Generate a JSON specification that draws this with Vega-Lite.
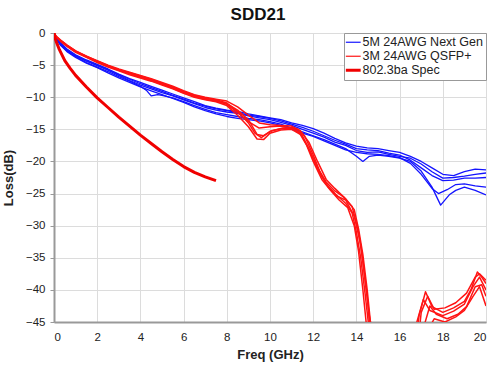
{
  "$schema": "https://vega.github.io/schema/vega-lite/v6.json",
  "autosize": {"type": "none"},
  "width": 432,
  "height": 289,
  "padding": {"left": 54, "top": 33, "right": 14, "bottom": 45},
  "background": "white",
  "config": {
    "font": "Liberation Sans",
    "view": {"stroke": "#999999", "strokeWidth": 1},
    "axis": {"gridColor": "#dcdcdc", "domainColor": "#999999", "domainWidth": 2, "labelFontSize": 11.5, "labelColor": "#222222", "titleFontSize": 13, "titleFontWeight": "bold", "titleColor": "#222222"},
    "axisX": {"ticks": false, "labelPadding": 9},
    "axisY": {"ticks": true, "tickSize": 4, "tickColor": "#999999", "labelPadding": 5}
  },
  "title": {"text": "SDD21", "fontSize": 17, "fontWeight": "bold", "color": "#111111", "anchor": "middle", "dx": -12, "offset": 3},
  "data": {"values": [
    {"c":"b1","g":"5M 24AWG Next Gen","f":0,"l":0},{"c":"b1","g":"5M 24AWG Next Gen","f":0.1,"l":-0.9},{"c":"b1","g":"5M 24AWG Next Gen","f":0.3,"l":-1.7},{"c":"b1","g":"5M 24AWG Next Gen","f":0.6,"l":-2.7},{"c":"b1","g":"5M 24AWG Next Gen","f":1,"l":-3.6},{"c":"b1","g":"5M 24AWG Next Gen","f":1.5,"l":-4.4},{"c":"b1","g":"5M 24AWG Next Gen","f":2,"l":-5.1},{"c":"b1","g":"5M 24AWG Next Gen","f":2.5,"l":-5.8},{"c":"b1","g":"5M 24AWG Next Gen","f":3,"l":-6.6},{"c":"b1","g":"5M 24AWG Next Gen","f":3.5,"l":-7.4},{"c":"b1","g":"5M 24AWG Next Gen","f":4,"l":-8.1},{"c":"b1","g":"5M 24AWG Next Gen","f":4.5,"l":-8.7},{"c":"b1","g":"5M 24AWG Next Gen","f":5,"l":-9.3},{"c":"b1","g":"5M 24AWG Next Gen","f":5.5,"l":-9.8},{"c":"b1","g":"5M 24AWG Next Gen","f":6,"l":-10.4},{"c":"b1","g":"5M 24AWG Next Gen","f":6.5,"l":-11.0},{"c":"b1","g":"5M 24AWG Next Gen","f":7,"l":-11.6},{"c":"b1","g":"5M 24AWG Next Gen","f":7.5,"l":-12.0},{"c":"b1","g":"5M 24AWG Next Gen","f":8,"l":-12.3},{"c":"b1","g":"5M 24AWG Next Gen","f":8.5,"l":-12.5},{"c":"b1","g":"5M 24AWG Next Gen","f":9,"l":-12.9},{"c":"b1","g":"5M 24AWG Next Gen","f":9.5,"l":-13.2},{"c":"b1","g":"5M 24AWG Next Gen","f":10,"l":-13.5},{"c":"b1","g":"5M 24AWG Next Gen","f":10.5,"l":-13.9},{"c":"b1","g":"5M 24AWG Next Gen","f":11,"l":-14.4},{"c":"b1","g":"5M 24AWG Next Gen","f":11.5,"l":-15.0},{"c":"b1","g":"5M 24AWG Next Gen","f":12,"l":-15.6},{"c":"b1","g":"5M 24AWG Next Gen","f":12.5,"l":-16.2},{"c":"b1","g":"5M 24AWG Next Gen","f":13,"l":-17.0},{"c":"b1","g":"5M 24AWG Next Gen","f":13.5,"l":-17.5},{"c":"b1","g":"5M 24AWG Next Gen","f":14,"l":-18.3},{"c":"b1","g":"5M 24AWG Next Gen","f":14.5,"l":-18.6},{"c":"b1","g":"5M 24AWG Next Gen","f":15,"l":-18.5},{"c":"b1","g":"5M 24AWG Next Gen","f":15.5,"l":-18.9},{"c":"b1","g":"5M 24AWG Next Gen","f":16,"l":-19.2},{"c":"b1","g":"5M 24AWG Next Gen","f":16.5,"l":-19.5},{"c":"b1","g":"5M 24AWG Next Gen","f":17,"l":-20.4},{"c":"b1","g":"5M 24AWG Next Gen","f":17.5,"l":-21.6},{"c":"b1","g":"5M 24AWG Next Gen","f":18,"l":-22.6},{"c":"b1","g":"5M 24AWG Next Gen","f":18.5,"l":-22.5},{"c":"b1","g":"5M 24AWG Next Gen","f":19,"l":-22.3},{"c":"b1","g":"5M 24AWG Next Gen","f":19.5,"l":-22.0},{"c":"b1","g":"5M 24AWG Next Gen","f":20,"l":-21.8},
    {"c":"b2","g":"5M 24AWG Next Gen","f":0,"l":0},{"c":"b2","g":"5M 24AWG Next Gen","f":0.1,"l":-0.8},{"c":"b2","g":"5M 24AWG Next Gen","f":0.3,"l":-1.5},{"c":"b2","g":"5M 24AWG Next Gen","f":0.6,"l":-2.5},{"c":"b2","g":"5M 24AWG Next Gen","f":1,"l":-3.4},{"c":"b2","g":"5M 24AWG Next Gen","f":1.5,"l":-4.2},{"c":"b2","g":"5M 24AWG Next Gen","f":2,"l":-4.9},{"c":"b2","g":"5M 24AWG Next Gen","f":2.5,"l":-5.6},{"c":"b2","g":"5M 24AWG Next Gen","f":3,"l":-6.4},{"c":"b2","g":"5M 24AWG Next Gen","f":3.5,"l":-7.1},{"c":"b2","g":"5M 24AWG Next Gen","f":4,"l":-7.7},{"c":"b2","g":"5M 24AWG Next Gen","f":4.5,"l":-8.3},{"c":"b2","g":"5M 24AWG Next Gen","f":5,"l":-8.9},{"c":"b2","g":"5M 24AWG Next Gen","f":5.5,"l":-9.5},{"c":"b2","g":"5M 24AWG Next Gen","f":6,"l":-10.1},{"c":"b2","g":"5M 24AWG Next Gen","f":6.5,"l":-10.7},{"c":"b2","g":"5M 24AWG Next Gen","f":7,"l":-11.3},{"c":"b2","g":"5M 24AWG Next Gen","f":7.5,"l":-11.7},{"c":"b2","g":"5M 24AWG Next Gen","f":8,"l":-12.0},{"c":"b2","g":"5M 24AWG Next Gen","f":8.5,"l":-12.2},{"c":"b2","g":"5M 24AWG Next Gen","f":9,"l":-12.6},{"c":"b2","g":"5M 24AWG Next Gen","f":9.5,"l":-12.9},{"c":"b2","g":"5M 24AWG Next Gen","f":10,"l":-13.2},{"c":"b2","g":"5M 24AWG Next Gen","f":10.5,"l":-13.5},{"c":"b2","g":"5M 24AWG Next Gen","f":11,"l":-14.0},{"c":"b2","g":"5M 24AWG Next Gen","f":11.5,"l":-14.4},{"c":"b2","g":"5M 24AWG Next Gen","f":12,"l":-14.9},{"c":"b2","g":"5M 24AWG Next Gen","f":12.5,"l":-15.6},{"c":"b2","g":"5M 24AWG Next Gen","f":13,"l":-16.4},{"c":"b2","g":"5M 24AWG Next Gen","f":13.5,"l":-17.1},{"c":"b2","g":"5M 24AWG Next Gen","f":14,"l":-17.6},{"c":"b2","g":"5M 24AWG Next Gen","f":14.5,"l":-17.9},{"c":"b2","g":"5M 24AWG Next Gen","f":15,"l":-18.0},{"c":"b2","g":"5M 24AWG Next Gen","f":15.5,"l":-18.3},{"c":"b2","g":"5M 24AWG Next Gen","f":16,"l":-18.6},{"c":"b2","g":"5M 24AWG Next Gen","f":16.5,"l":-19.2},{"c":"b2","g":"5M 24AWG Next Gen","f":17,"l":-20.0},{"c":"b2","g":"5M 24AWG Next Gen","f":17.5,"l":-21.0},{"c":"b2","g":"5M 24AWG Next Gen","f":18,"l":-22.0},{"c":"b2","g":"5M 24AWG Next Gen","f":18.5,"l":-22.2},{"c":"b2","g":"5M 24AWG Next Gen","f":19,"l":-21.6},{"c":"b2","g":"5M 24AWG Next Gen","f":19.5,"l":-21.2},{"c":"b2","g":"5M 24AWG Next Gen","f":20,"l":-21.3},
    {"c":"b3","g":"5M 24AWG Next Gen","f":0,"l":0},{"c":"b3","g":"5M 24AWG Next Gen","f":0.1,"l":-0.9},{"c":"b3","g":"5M 24AWG Next Gen","f":0.3,"l":-1.8},{"c":"b3","g":"5M 24AWG Next Gen","f":0.6,"l":-2.8},{"c":"b3","g":"5M 24AWG Next Gen","f":1,"l":-3.7},{"c":"b3","g":"5M 24AWG Next Gen","f":1.5,"l":-4.6},{"c":"b3","g":"5M 24AWG Next Gen","f":2,"l":-5.3},{"c":"b3","g":"5M 24AWG Next Gen","f":2.5,"l":-6.0},{"c":"b3","g":"5M 24AWG Next Gen","f":3,"l":-6.8},{"c":"b3","g":"5M 24AWG Next Gen","f":3.5,"l":-7.5},{"c":"b3","g":"5M 24AWG Next Gen","f":4,"l":-8.3},{"c":"b3","g":"5M 24AWG Next Gen","f":4.3,"l":-9.0},{"c":"b3","g":"5M 24AWG Next Gen","f":4.5,"l":-9.8},{"c":"b3","g":"5M 24AWG Next Gen","f":4.8,"l":-9.6},{"c":"b3","g":"5M 24AWG Next Gen","f":5,"l":-9.7},{"c":"b3","g":"5M 24AWG Next Gen","f":5.5,"l":-10.1},{"c":"b3","g":"5M 24AWG Next Gen","f":6,"l":-10.7},{"c":"b3","g":"5M 24AWG Next Gen","f":6.5,"l":-11.3},{"c":"b3","g":"5M 24AWG Next Gen","f":7,"l":-11.9},{"c":"b3","g":"5M 24AWG Next Gen","f":7.5,"l":-12.4},{"c":"b3","g":"5M 24AWG Next Gen","f":8,"l":-12.7},{"c":"b3","g":"5M 24AWG Next Gen","f":8.5,"l":-13.0},{"c":"b3","g":"5M 24AWG Next Gen","f":9,"l":-13.3},{"c":"b3","g":"5M 24AWG Next Gen","f":9.5,"l":-13.5},{"c":"b3","g":"5M 24AWG Next Gen","f":10,"l":-13.8},{"c":"b3","g":"5M 24AWG Next Gen","f":10.5,"l":-14.2},{"c":"b3","g":"5M 24AWG Next Gen","f":11,"l":-14.8},{"c":"b3","g":"5M 24AWG Next Gen","f":11.5,"l":-15.4},{"c":"b3","g":"5M 24AWG Next Gen","f":12,"l":-16.0},{"c":"b3","g":"5M 24AWG Next Gen","f":12.5,"l":-16.6},{"c":"b3","g":"5M 24AWG Next Gen","f":13,"l":-17.3},{"c":"b3","g":"5M 24AWG Next Gen","f":13.5,"l":-18.0},{"c":"b3","g":"5M 24AWG Next Gen","f":14,"l":-19.2},{"c":"b3","g":"5M 24AWG Next Gen","f":14.3,"l":-20.0},{"c":"b3","g":"5M 24AWG Next Gen","f":14.6,"l":-19.2},{"c":"b3","g":"5M 24AWG Next Gen","f":15,"l":-19.0},{"c":"b3","g":"5M 24AWG Next Gen","f":15.5,"l":-19.2},{"c":"b3","g":"5M 24AWG Next Gen","f":16,"l":-19.5},{"c":"b3","g":"5M 24AWG Next Gen","f":16.5,"l":-20.0},{"c":"b3","g":"5M 24AWG Next Gen","f":17,"l":-21.5},{"c":"b3","g":"5M 24AWG Next Gen","f":17.5,"l":-24.0},{"c":"b3","g":"5M 24AWG Next Gen","f":17.9,"l":-26.8},{"c":"b3","g":"5M 24AWG Next Gen","f":18.3,"l":-25.2},{"c":"b3","g":"5M 24AWG Next Gen","f":18.6,"l":-24.5},{"c":"b3","g":"5M 24AWG Next Gen","f":19,"l":-24.0},{"c":"b3","g":"5M 24AWG Next Gen","f":19.5,"l":-24.5},{"c":"b3","g":"5M 24AWG Next Gen","f":20,"l":-25.2},
    {"c":"b4","g":"5M 24AWG Next Gen","f":0,"l":0},{"c":"b4","g":"5M 24AWG Next Gen","f":0.1,"l":-1.0},{"c":"b4","g":"5M 24AWG Next Gen","f":0.3,"l":-1.9},{"c":"b4","g":"5M 24AWG Next Gen","f":0.6,"l":-2.9},{"c":"b4","g":"5M 24AWG Next Gen","f":1,"l":-3.8},{"c":"b4","g":"5M 24AWG Next Gen","f":1.5,"l":-4.7},{"c":"b4","g":"5M 24AWG Next Gen","f":2,"l":-5.4},{"c":"b4","g":"5M 24AWG Next Gen","f":2.5,"l":-6.2},{"c":"b4","g":"5M 24AWG Next Gen","f":3,"l":-7.0},{"c":"b4","g":"5M 24AWG Next Gen","f":3.5,"l":-7.7},{"c":"b4","g":"5M 24AWG Next Gen","f":4,"l":-8.4},{"c":"b4","g":"5M 24AWG Next Gen","f":4.5,"l":-9.0},{"c":"b4","g":"5M 24AWG Next Gen","f":5,"l":-9.6},{"c":"b4","g":"5M 24AWG Next Gen","f":5.5,"l":-10.2},{"c":"b4","g":"5M 24AWG Next Gen","f":6,"l":-10.8},{"c":"b4","g":"5M 24AWG Next Gen","f":6.5,"l":-11.5},{"c":"b4","g":"5M 24AWG Next Gen","f":7,"l":-12.1},{"c":"b4","g":"5M 24AWG Next Gen","f":7.5,"l":-12.6},{"c":"b4","g":"5M 24AWG Next Gen","f":8,"l":-13.0},{"c":"b4","g":"5M 24AWG Next Gen","f":8.5,"l":-13.3},{"c":"b4","g":"5M 24AWG Next Gen","f":9,"l":-13.5},{"c":"b4","g":"5M 24AWG Next Gen","f":9.5,"l":-13.7},{"c":"b4","g":"5M 24AWG Next Gen","f":10,"l":-14.0},{"c":"b4","g":"5M 24AWG Next Gen","f":10.5,"l":-14.4},{"c":"b4","g":"5M 24AWG Next Gen","f":11,"l":-15.0},{"c":"b4","g":"5M 24AWG Next Gen","f":11.5,"l":-15.6},{"c":"b4","g":"5M 24AWG Next Gen","f":12,"l":-16.1},{"c":"b4","g":"5M 24AWG Next Gen","f":12.5,"l":-16.8},{"c":"b4","g":"5M 24AWG Next Gen","f":13,"l":-17.5},{"c":"b4","g":"5M 24AWG Next Gen","f":13.5,"l":-18.2},{"c":"b4","g":"5M 24AWG Next Gen","f":14,"l":-18.6},{"c":"b4","g":"5M 24AWG Next Gen","f":14.5,"l":-18.8},{"c":"b4","g":"5M 24AWG Next Gen","f":15,"l":-18.9},{"c":"b4","g":"5M 24AWG Next Gen","f":15.5,"l":-19.1},{"c":"b4","g":"5M 24AWG Next Gen","f":16,"l":-19.4},{"c":"b4","g":"5M 24AWG Next Gen","f":16.5,"l":-20.3},{"c":"b4","g":"5M 24AWG Next Gen","f":17,"l":-22.0},{"c":"b4","g":"5M 24AWG Next Gen","f":17.5,"l":-24.2},{"c":"b4","g":"5M 24AWG Next Gen","f":17.8,"l":-25.0},{"c":"b4","g":"5M 24AWG Next Gen","f":18.2,"l":-24.4},{"c":"b4","g":"5M 24AWG Next Gen","f":18.6,"l":-23.6},{"c":"b4","g":"5M 24AWG Next Gen","f":19,"l":-23.5},{"c":"b4","g":"5M 24AWG Next Gen","f":19.5,"l":-23.8},{"c":"b4","g":"5M 24AWG Next Gen","f":20,"l":-24.0},
    {"c":"b5","g":"5M 24AWG Next Gen","f":0,"l":0},{"c":"b5","g":"5M 24AWG Next Gen","f":0.1,"l":-0.9},{"c":"b5","g":"5M 24AWG Next Gen","f":0.3,"l":-1.6},{"c":"b5","g":"5M 24AWG Next Gen","f":0.6,"l":-2.6},{"c":"b5","g":"5M 24AWG Next Gen","f":1,"l":-3.5},{"c":"b5","g":"5M 24AWG Next Gen","f":1.5,"l":-4.3},{"c":"b5","g":"5M 24AWG Next Gen","f":2,"l":-5.0},{"c":"b5","g":"5M 24AWG Next Gen","f":2.5,"l":-5.7},{"c":"b5","g":"5M 24AWG Next Gen","f":3,"l":-6.5},{"c":"b5","g":"5M 24AWG Next Gen","f":3.5,"l":-7.2},{"c":"b5","g":"5M 24AWG Next Gen","f":4,"l":-7.9},{"c":"b5","g":"5M 24AWG Next Gen","f":4.5,"l":-8.5},{"c":"b5","g":"5M 24AWG Next Gen","f":5,"l":-9.1},{"c":"b5","g":"5M 24AWG Next Gen","f":5.5,"l":-9.7},{"c":"b5","g":"5M 24AWG Next Gen","f":6,"l":-10.3},{"c":"b5","g":"5M 24AWG Next Gen","f":6.5,"l":-10.9},{"c":"b5","g":"5M 24AWG Next Gen","f":7,"l":-11.4},{"c":"b5","g":"5M 24AWG Next Gen","f":7.5,"l":-11.8},{"c":"b5","g":"5M 24AWG Next Gen","f":8,"l":-12.1},{"c":"b5","g":"5M 24AWG Next Gen","f":8.5,"l":-12.4},{"c":"b5","g":"5M 24AWG Next Gen","f":9,"l":-12.8},{"c":"b5","g":"5M 24AWG Next Gen","f":9.5,"l":-13.0},{"c":"b5","g":"5M 24AWG Next Gen","f":10,"l":-13.3},{"c":"b5","g":"5M 24AWG Next Gen","f":10.5,"l":-13.7},{"c":"b5","g":"5M 24AWG Next Gen","f":11,"l":-14.2},{"c":"b5","g":"5M 24AWG Next Gen","f":11.5,"l":-14.7},{"c":"b5","g":"5M 24AWG Next Gen","f":12,"l":-15.3},{"c":"b5","g":"5M 24AWG Next Gen","f":12.5,"l":-16.0},{"c":"b5","g":"5M 24AWG Next Gen","f":13,"l":-16.7},{"c":"b5","g":"5M 24AWG Next Gen","f":13.5,"l":-17.3},{"c":"b5","g":"5M 24AWG Next Gen","f":14,"l":-18.0},{"c":"b5","g":"5M 24AWG Next Gen","f":14.5,"l":-18.2},{"c":"b5","g":"5M 24AWG Next Gen","f":15,"l":-18.3},{"c":"b5","g":"5M 24AWG Next Gen","f":15.5,"l":-18.7},{"c":"b5","g":"5M 24AWG Next Gen","f":16,"l":-19.0},{"c":"b5","g":"5M 24AWG Next Gen","f":16.5,"l":-19.8},{"c":"b5","g":"5M 24AWG Next Gen","f":17,"l":-21.0},{"c":"b5","g":"5M 24AWG Next Gen","f":17.5,"l":-22.2},{"c":"b5","g":"5M 24AWG Next Gen","f":18,"l":-23.0},{"c":"b5","g":"5M 24AWG Next Gen","f":18.5,"l":-22.9},{"c":"b5","g":"5M 24AWG Next Gen","f":19,"l":-22.6},{"c":"b5","g":"5M 24AWG Next Gen","f":19.5,"l":-22.6},{"c":"b5","g":"5M 24AWG Next Gen","f":20,"l":-22.5},
    {"c":"r1","g":"3M 24AWG QSFP+","f":0,"l":0},{"c":"r1","g":"3M 24AWG QSFP+","f":0.1,"l":-0.6},{"c":"r1","g":"3M 24AWG QSFP+","f":0.3,"l":-1.2},{"c":"r1","g":"3M 24AWG QSFP+","f":0.6,"l":-2.0},{"c":"r1","g":"3M 24AWG QSFP+","f":1,"l":-2.9},{"c":"r1","g":"3M 24AWG QSFP+","f":1.5,"l":-3.7},{"c":"r1","g":"3M 24AWG QSFP+","f":2,"l":-4.5},{"c":"r1","g":"3M 24AWG QSFP+","f":2.5,"l":-5.2},{"c":"r1","g":"3M 24AWG QSFP+","f":3,"l":-5.8},{"c":"r1","g":"3M 24AWG QSFP+","f":3.5,"l":-6.3},{"c":"r1","g":"3M 24AWG QSFP+","f":4,"l":-6.8},{"c":"r1","g":"3M 24AWG QSFP+","f":4.5,"l":-7.3},{"c":"r1","g":"3M 24AWG QSFP+","f":5,"l":-7.9},{"c":"r1","g":"3M 24AWG QSFP+","f":5.5,"l":-8.5},{"c":"r1","g":"3M 24AWG QSFP+","f":6,"l":-9.2},{"c":"r1","g":"3M 24AWG QSFP+","f":6.5,"l":-9.8},{"c":"r1","g":"3M 24AWG QSFP+","f":7,"l":-10.2},{"c":"r1","g":"3M 24AWG QSFP+","f":7.5,"l":-10.4},{"c":"r1","g":"3M 24AWG QSFP+","f":8,"l":-10.9},{"c":"r1","g":"3M 24AWG QSFP+","f":8.5,"l":-12.2},{"c":"r1","g":"3M 24AWG QSFP+","f":9,"l":-14.0},{"c":"r1","g":"3M 24AWG QSFP+","f":9.3,"l":-15.6},{"c":"r1","g":"3M 24AWG QSFP+","f":9.6,"l":-16.3},{"c":"r1","g":"3M 24AWG QSFP+","f":10,"l":-15.3},{"c":"r1","g":"3M 24AWG QSFP+","f":10.5,"l":-14.9},{"c":"r1","g":"3M 24AWG QSFP+","f":11,"l":-14.7},{"c":"r1","g":"3M 24AWG QSFP+","f":11.3,"l":-15.0},{"c":"r1","g":"3M 24AWG QSFP+","f":11.6,"l":-16.0},{"c":"r1","g":"3M 24AWG QSFP+","f":12,"l":-19.0},{"c":"r1","g":"3M 24AWG QSFP+","f":12.3,"l":-21.5},{"c":"r1","g":"3M 24AWG QSFP+","f":12.6,"l":-23.5},{"c":"r1","g":"3M 24AWG QSFP+","f":13,"l":-25.0},{"c":"r1","g":"3M 24AWG QSFP+","f":13.5,"l":-26.5},{"c":"r1","g":"3M 24AWG QSFP+","f":13.8,"l":-28.0},{"c":"r1","g":"3M 24AWG QSFP+","f":14,"l":-31.0},{"c":"r1","g":"3M 24AWG QSFP+","f":14.2,"l":-35.0},{"c":"r1","g":"3M 24AWG QSFP+","f":14.4,"l":-40.5},{"c":"r1","g":"3M 24AWG QSFP+","f":14.55,"l":-45},{"c":"r1","g":"3M 24AWG QSFP+","f":14.7,"l":-50},{"c":"r1","g":"3M 24AWG QSFP+","f":16.7,"l":-50},{"c":"r1","g":"3M 24AWG QSFP+","f":16.9,"l":-44},{"c":"r1","g":"3M 24AWG QSFP+","f":17.2,"l":-40.3},{"c":"r1","g":"3M 24AWG QSFP+","f":17.5,"l":-42.6},{"c":"r1","g":"3M 24AWG QSFP+","f":18,"l":-43.5},{"c":"r1","g":"3M 24AWG QSFP+","f":18.5,"l":-42.8},{"c":"r1","g":"3M 24AWG QSFP+","f":19,"l":-41.8},{"c":"r1","g":"3M 24AWG QSFP+","f":19.3,"l":-40},{"c":"r1","g":"3M 24AWG QSFP+","f":19.6,"l":-37.2},{"c":"r1","g":"3M 24AWG QSFP+","f":19.8,"l":-38},{"c":"r1","g":"3M 24AWG QSFP+","f":20,"l":-39},
    {"c":"r2","g":"3M 24AWG QSFP+","f":0,"l":0},{"c":"r2","g":"3M 24AWG QSFP+","f":0.1,"l":-0.5},{"c":"r2","g":"3M 24AWG QSFP+","f":0.3,"l":-1.1},{"c":"r2","g":"3M 24AWG QSFP+","f":0.6,"l":-1.9},{"c":"r2","g":"3M 24AWG QSFP+","f":1,"l":-2.8},{"c":"r2","g":"3M 24AWG QSFP+","f":1.5,"l":-3.6},{"c":"r2","g":"3M 24AWG QSFP+","f":2,"l":-4.3},{"c":"r2","g":"3M 24AWG QSFP+","f":2.5,"l":-5.0},{"c":"r2","g":"3M 24AWG QSFP+","f":3,"l":-5.6},{"c":"r2","g":"3M 24AWG QSFP+","f":3.5,"l":-6.1},{"c":"r2","g":"3M 24AWG QSFP+","f":4,"l":-6.6},{"c":"r2","g":"3M 24AWG QSFP+","f":4.5,"l":-7.1},{"c":"r2","g":"3M 24AWG QSFP+","f":5,"l":-7.7},{"c":"r2","g":"3M 24AWG QSFP+","f":5.5,"l":-8.3},{"c":"r2","g":"3M 24AWG QSFP+","f":6,"l":-9.0},{"c":"r2","g":"3M 24AWG QSFP+","f":6.5,"l":-9.6},{"c":"r2","g":"3M 24AWG QSFP+","f":7,"l":-10.0},{"c":"r2","g":"3M 24AWG QSFP+","f":7.5,"l":-10.3},{"c":"r2","g":"3M 24AWG QSFP+","f":8,"l":-10.6},{"c":"r2","g":"3M 24AWG QSFP+","f":8.5,"l":-11.5},{"c":"r2","g":"3M 24AWG QSFP+","f":9,"l":-12.8},{"c":"r2","g":"3M 24AWG QSFP+","f":9.5,"l":-14.0},{"c":"r2","g":"3M 24AWG QSFP+","f":10,"l":-14.3},{"c":"r2","g":"3M 24AWG QSFP+","f":10.5,"l":-14.4},{"c":"r2","g":"3M 24AWG QSFP+","f":11,"l":-14.5},{"c":"r2","g":"3M 24AWG QSFP+","f":11.4,"l":-15.2},{"c":"r2","g":"3M 24AWG QSFP+","f":11.8,"l":-17.0},{"c":"r2","g":"3M 24AWG QSFP+","f":12.2,"l":-20.0},{"c":"r2","g":"3M 24AWG QSFP+","f":12.6,"l":-22.8},{"c":"r2","g":"3M 24AWG QSFP+","f":13,"l":-24.2},{"c":"r2","g":"3M 24AWG QSFP+","f":13.5,"l":-25.8},{"c":"r2","g":"3M 24AWG QSFP+","f":13.9,"l":-27.5},{"c":"r2","g":"3M 24AWG QSFP+","f":14.1,"l":-30.5},{"c":"r2","g":"3M 24AWG QSFP+","f":14.3,"l":-34.5},{"c":"r2","g":"3M 24AWG QSFP+","f":14.5,"l":-40},{"c":"r2","g":"3M 24AWG QSFP+","f":14.65,"l":-45},{"c":"r2","g":"3M 24AWG QSFP+","f":14.8,"l":-50},{"c":"r2","g":"3M 24AWG QSFP+","f":16.6,"l":-50},{"c":"r2","g":"3M 24AWG QSFP+","f":16.8,"l":-45},{"c":"r2","g":"3M 24AWG QSFP+","f":17.1,"l":-41.5},{"c":"r2","g":"3M 24AWG QSFP+","f":17.4,"l":-43.2},{"c":"r2","g":"3M 24AWG QSFP+","f":18,"l":-44},{"c":"r2","g":"3M 24AWG QSFP+","f":18.5,"l":-43.3},{"c":"r2","g":"3M 24AWG QSFP+","f":19,"l":-42.2},{"c":"r2","g":"3M 24AWG QSFP+","f":19.4,"l":-39.5},{"c":"r2","g":"3M 24AWG QSFP+","f":19.7,"l":-38.0},{"c":"r2","g":"3M 24AWG QSFP+","f":20,"l":-40},
    {"c":"r3","g":"3M 24AWG QSFP+","f":0,"l":0},{"c":"r3","g":"3M 24AWG QSFP+","f":0.1,"l":-0.6},{"c":"r3","g":"3M 24AWG QSFP+","f":0.3,"l":-1.3},{"c":"r3","g":"3M 24AWG QSFP+","f":0.6,"l":-2.1},{"c":"r3","g":"3M 24AWG QSFP+","f":1,"l":-3.0},{"c":"r3","g":"3M 24AWG QSFP+","f":1.5,"l":-3.8},{"c":"r3","g":"3M 24AWG QSFP+","f":2,"l":-4.6},{"c":"r3","g":"3M 24AWG QSFP+","f":2.5,"l":-5.3},{"c":"r3","g":"3M 24AWG QSFP+","f":3,"l":-5.9},{"c":"r3","g":"3M 24AWG QSFP+","f":3.5,"l":-6.5},{"c":"r3","g":"3M 24AWG QSFP+","f":4,"l":-7.0},{"c":"r3","g":"3M 24AWG QSFP+","f":4.5,"l":-7.5},{"c":"r3","g":"3M 24AWG QSFP+","f":5,"l":-8.1},{"c":"r3","g":"3M 24AWG QSFP+","f":5.5,"l":-8.7},{"c":"r3","g":"3M 24AWG QSFP+","f":6,"l":-9.4},{"c":"r3","g":"3M 24AWG QSFP+","f":6.5,"l":-10.0},{"c":"r3","g":"3M 24AWG QSFP+","f":7,"l":-10.4},{"c":"r3","g":"3M 24AWG QSFP+","f":7.5,"l":-10.7},{"c":"r3","g":"3M 24AWG QSFP+","f":8,"l":-11.3},{"c":"r3","g":"3M 24AWG QSFP+","f":8.5,"l":-12.8},{"c":"r3","g":"3M 24AWG QSFP+","f":9,"l":-14.6},{"c":"r3","g":"3M 24AWG QSFP+","f":9.4,"l":-16.5},{"c":"r3","g":"3M 24AWG QSFP+","f":9.7,"l":-16.6},{"c":"r3","g":"3M 24AWG QSFP+","f":10,"l":-15.6},{"c":"r3","g":"3M 24AWG QSFP+","f":10.5,"l":-15.1},{"c":"r3","g":"3M 24AWG QSFP+","f":11,"l":-15.0},{"c":"r3","g":"3M 24AWG QSFP+","f":11.4,"l":-15.8},{"c":"r3","g":"3M 24AWG QSFP+","f":11.7,"l":-17.5},{"c":"r3","g":"3M 24AWG QSFP+","f":12,"l":-20.0},{"c":"r3","g":"3M 24AWG QSFP+","f":12.4,"l":-22.8},{"c":"r3","g":"3M 24AWG QSFP+","f":12.8,"l":-24.5},{"c":"r3","g":"3M 24AWG QSFP+","f":13.2,"l":-26.0},{"c":"r3","g":"3M 24AWG QSFP+","f":13.6,"l":-27.2},{"c":"r3","g":"3M 24AWG QSFP+","f":13.9,"l":-30.0},{"c":"r3","g":"3M 24AWG QSFP+","f":14.1,"l":-34.0},{"c":"r3","g":"3M 24AWG QSFP+","f":14.3,"l":-40.0},{"c":"r3","g":"3M 24AWG QSFP+","f":14.45,"l":-45},{"c":"r3","g":"3M 24AWG QSFP+","f":14.6,"l":-50},{"c":"r3","g":"3M 24AWG QSFP+","f":16.9,"l":-50},{"c":"r3","g":"3M 24AWG QSFP+","f":17.1,"l":-46},{"c":"r3","g":"3M 24AWG QSFP+","f":17.4,"l":-42.5},{"c":"r3","g":"3M 24AWG QSFP+","f":17.7,"l":-43.8},{"c":"r3","g":"3M 24AWG QSFP+","f":18.2,"l":-44.5},{"c":"r3","g":"3M 24AWG QSFP+","f":18.7,"l":-43.8},{"c":"r3","g":"3M 24AWG QSFP+","f":19.1,"l":-42.6},{"c":"r3","g":"3M 24AWG QSFP+","f":19.5,"l":-39.5},{"c":"r3","g":"3M 24AWG QSFP+","f":19.8,"l":-39.2},{"c":"r3","g":"3M 24AWG QSFP+","f":20,"l":-41},
    {"c":"r4","g":"3M 24AWG QSFP+","f":0,"l":0},{"c":"r4","g":"3M 24AWG QSFP+","f":0.1,"l":-0.6},{"c":"r4","g":"3M 24AWG QSFP+","f":0.3,"l":-1.2},{"c":"r4","g":"3M 24AWG QSFP+","f":0.6,"l":-2.0},{"c":"r4","g":"3M 24AWG QSFP+","f":1,"l":-2.9},{"c":"r4","g":"3M 24AWG QSFP+","f":1.5,"l":-3.7},{"c":"r4","g":"3M 24AWG QSFP+","f":2,"l":-4.4},{"c":"r4","g":"3M 24AWG QSFP+","f":2.5,"l":-5.1},{"c":"r4","g":"3M 24AWG QSFP+","f":3,"l":-5.7},{"c":"r4","g":"3M 24AWG QSFP+","f":3.5,"l":-6.2},{"c":"r4","g":"3M 24AWG QSFP+","f":4,"l":-6.7},{"c":"r4","g":"3M 24AWG QSFP+","f":4.5,"l":-7.2},{"c":"r4","g":"3M 24AWG QSFP+","f":5,"l":-7.8},{"c":"r4","g":"3M 24AWG QSFP+","f":5.5,"l":-8.4},{"c":"r4","g":"3M 24AWG QSFP+","f":6,"l":-9.1},{"c":"r4","g":"3M 24AWG QSFP+","f":6.5,"l":-9.7},{"c":"r4","g":"3M 24AWG QSFP+","f":7,"l":-10.1},{"c":"r4","g":"3M 24AWG QSFP+","f":7.5,"l":-10.5},{"c":"r4","g":"3M 24AWG QSFP+","f":8,"l":-11.1},{"c":"r4","g":"3M 24AWG QSFP+","f":8.5,"l":-12.4},{"c":"r4","g":"3M 24AWG QSFP+","f":9,"l":-13.8},{"c":"r4","g":"3M 24AWG QSFP+","f":9.5,"l":-14.8},{"c":"r4","g":"3M 24AWG QSFP+","f":10,"l":-14.6},{"c":"r4","g":"3M 24AWG QSFP+","f":10.5,"l":-14.5},{"c":"r4","g":"3M 24AWG QSFP+","f":11,"l":-14.8},{"c":"r4","g":"3M 24AWG QSFP+","f":11.4,"l":-15.5},{"c":"r4","g":"3M 24AWG QSFP+","f":11.8,"l":-18.0},{"c":"r4","g":"3M 24AWG QSFP+","f":12.2,"l":-21.0},{"c":"r4","g":"3M 24AWG QSFP+","f":12.6,"l":-23.2},{"c":"r4","g":"3M 24AWG QSFP+","f":13,"l":-24.6},{"c":"r4","g":"3M 24AWG QSFP+","f":13.4,"l":-25.5},{"c":"r4","g":"3M 24AWG QSFP+","f":13.8,"l":-27.0},{"c":"r4","g":"3M 24AWG QSFP+","f":14.1,"l":-31.0},{"c":"r4","g":"3M 24AWG QSFP+","f":14.3,"l":-35.5},{"c":"r4","g":"3M 24AWG QSFP+","f":14.5,"l":-41.0},{"c":"r4","g":"3M 24AWG QSFP+","f":14.6,"l":-45},{"c":"r4","g":"3M 24AWG QSFP+","f":14.75,"l":-50},{"c":"r4","g":"3M 24AWG QSFP+","f":17.0,"l":-50},{"c":"r4","g":"3M 24AWG QSFP+","f":17.2,"l":-47},{"c":"r4","g":"3M 24AWG QSFP+","f":17.6,"l":-44.5},{"c":"r4","g":"3M 24AWG QSFP+","f":18.1,"l":-45},{"c":"r4","g":"3M 24AWG QSFP+","f":18.6,"l":-44.2},{"c":"r4","g":"3M 24AWG QSFP+","f":19,"l":-43.2},{"c":"r4","g":"3M 24AWG QSFP+","f":19.4,"l":-41.0},{"c":"r4","g":"3M 24AWG QSFP+","f":19.7,"l":-39.5},{"c":"r4","g":"3M 24AWG QSFP+","f":20,"l":-42.5},
    {"c":"r5","g":"3M 24AWG QSFP+","f":0,"l":0},{"c":"r5","g":"3M 24AWG QSFP+","f":0.1,"l":-0.5},{"c":"r5","g":"3M 24AWG QSFP+","f":0.3,"l":-1.1},{"c":"r5","g":"3M 24AWG QSFP+","f":0.6,"l":-1.9},{"c":"r5","g":"3M 24AWG QSFP+","f":1,"l":-2.8},{"c":"r5","g":"3M 24AWG QSFP+","f":1.5,"l":-3.6},{"c":"r5","g":"3M 24AWG QSFP+","f":2,"l":-4.4},{"c":"r5","g":"3M 24AWG QSFP+","f":2.5,"l":-5.1},{"c":"r5","g":"3M 24AWG QSFP+","f":3,"l":-5.7},{"c":"r5","g":"3M 24AWG QSFP+","f":3.5,"l":-6.3},{"c":"r5","g":"3M 24AWG QSFP+","f":4,"l":-6.9},{"c":"r5","g":"3M 24AWG QSFP+","f":4.5,"l":-7.4},{"c":"r5","g":"3M 24AWG QSFP+","f":5,"l":-8.0},{"c":"r5","g":"3M 24AWG QSFP+","f":5.5,"l":-8.6},{"c":"r5","g":"3M 24AWG QSFP+","f":6,"l":-9.3},{"c":"r5","g":"3M 24AWG QSFP+","f":6.5,"l":-9.9},{"c":"r5","g":"3M 24AWG QSFP+","f":7,"l":-10.3},{"c":"r5","g":"3M 24AWG QSFP+","f":7.5,"l":-10.6},{"c":"r5","g":"3M 24AWG QSFP+","f":8,"l":-11.0},{"c":"r5","g":"3M 24AWG QSFP+","f":8.5,"l":-12.0},{"c":"r5","g":"3M 24AWG QSFP+","f":9,"l":-13.5},{"c":"r5","g":"3M 24AWG QSFP+","f":9.4,"l":-15.8},{"c":"r5","g":"3M 24AWG QSFP+","f":9.7,"l":-16.0},{"c":"r5","g":"3M 24AWG QSFP+","f":10.1,"l":-15.2},{"c":"r5","g":"3M 24AWG QSFP+","f":10.6,"l":-14.8},{"c":"r5","g":"3M 24AWG QSFP+","f":11.1,"l":-14.9},{"c":"r5","g":"3M 24AWG QSFP+","f":11.5,"l":-16.0},{"c":"r5","g":"3M 24AWG QSFP+","f":11.9,"l":-18.8},{"c":"r5","g":"3M 24AWG QSFP+","f":12.3,"l":-21.8},{"c":"r5","g":"3M 24AWG QSFP+","f":12.7,"l":-24.0},{"c":"r5","g":"3M 24AWG QSFP+","f":13.1,"l":-25.4},{"c":"r5","g":"3M 24AWG QSFP+","f":13.5,"l":-26.0},{"c":"r5","g":"3M 24AWG QSFP+","f":13.9,"l":-28.5},{"c":"r5","g":"3M 24AWG QSFP+","f":14.2,"l":-33.0},{"c":"r5","g":"3M 24AWG QSFP+","f":14.4,"l":-38.5},{"c":"r5","g":"3M 24AWG QSFP+","f":14.6,"l":-44.0},{"c":"r5","g":"3M 24AWG QSFP+","f":14.7,"l":-46},{"c":"r5","g":"3M 24AWG QSFP+","f":14.8,"l":-50},{"c":"r5","g":"3M 24AWG QSFP+","f":16.8,"l":-50},{"c":"r5","g":"3M 24AWG QSFP+","f":17.0,"l":-43.5},{"c":"r5","g":"3M 24AWG QSFP+","f":17.3,"l":-41.0},{"c":"r5","g":"3M 24AWG QSFP+","f":17.6,"l":-43.0},{"c":"r5","g":"3M 24AWG QSFP+","f":18.1,"l":-42.8},{"c":"r5","g":"3M 24AWG QSFP+","f":18.6,"l":-42.0},{"c":"r5","g":"3M 24AWG QSFP+","f":19.1,"l":-40.5},{"c":"r5","g":"3M 24AWG QSFP+","f":19.5,"l":-38.0},{"c":"r5","g":"3M 24AWG QSFP+","f":19.7,"l":-37.5},{"c":"r5","g":"3M 24AWG QSFP+","f":20,"l":-38.5},
    {"c":"s","g":"802.3ba Spec","f":0,"l":0},{"c":"s","g":"802.3ba Spec","f":0.05,"l":-0.8},{"c":"s","g":"802.3ba Spec","f":0.1,"l":-1.3},{"c":"s","g":"802.3ba Spec","f":0.25,"l":-2.6},{"c":"s","g":"802.3ba Spec","f":0.5,"l":-4.3},{"c":"s","g":"802.3ba Spec","f":0.75,"l":-5.5},{"c":"s","g":"802.3ba Spec","f":1,"l":-6.6},{"c":"s","g":"802.3ba Spec","f":1.5,"l":-8.4},{"c":"s","g":"802.3ba Spec","f":2,"l":-10.1},{"c":"s","g":"802.3ba Spec","f":2.5,"l":-11.6},{"c":"s","g":"802.3ba Spec","f":3,"l":-13.1},{"c":"s","g":"802.3ba Spec","f":3.5,"l":-14.5},{"c":"s","g":"802.3ba Spec","f":4,"l":-15.9},{"c":"s","g":"802.3ba Spec","f":4.5,"l":-17.2},{"c":"s","g":"802.3ba Spec","f":5,"l":-18.5},{"c":"s","g":"802.3ba Spec","f":5.5,"l":-19.7},{"c":"s","g":"802.3ba Spec","f":6,"l":-20.8},{"c":"s","g":"802.3ba Spec","f":6.5,"l":-21.7},{"c":"s","g":"802.3ba Spec","f":7,"l":-22.4},{"c":"s","g":"802.3ba Spec","f":7.5,"l":-23.0}
  ]},
  "encoding": {
    "x": {"field": "f", "type": "quantitative", "title": "Freq (GHz)", "scale": {"domain": [0, 20], "nice": false}, "axis": {"values": [0,2,4,6,8,10,12,14,16,18,20], "titlePadding": 6}},
    "y": {"field": "l", "type": "quantitative", "title": "Loss(dB)", "scale": {"domain": [-45, 0], "nice": false}, "axis": {"values": [0,-5,-10,-15,-20,-25,-30,-35,-40,-45], "titlePadding": 10}},
    "color": {"field": "g", "type": "nominal", "scale": {"domain": ["5M 24AWG Next Gen", "3M 24AWG QSFP+", "802.3ba Spec"], "range": ["#1414ff", "#ff1414", "#f00000"]},
      "legend": {"title": null, "orient": "top-right", "offset": 0, "padding": 3, "fillColor": "white", "strokeColor": "#999999", "labelFontSize": 12.5, "labelColor": "#222222", "symbolSize": 220, "labelOffset": 3, "rowPadding": 1, "symbolType": "stroke",
        "encode": {"symbols": {"update": {"strokeWidth": {"signal": "datum.value === '802.3ba Spec' ? 3 : 1.2"}}}}}},
    "detail": {"field": "c", "type": "nominal"}
  },
  "layer": [
    {"transform": [{"filter": "datum.g === '5M 24AWG Next Gen'"}], "mark": {"type": "line", "clip": true, "strokeWidth": 1.3, "strokeJoin": "round"}},
    {"transform": [{"filter": "datum.g === '3M 24AWG QSFP+'"}], "mark": {"type": "line", "clip": true, "strokeWidth": 1.5, "strokeJoin": "round"}},
    {"transform": [{"filter": "datum.g === '802.3ba Spec'"}], "mark": {"type": "line", "clip": true, "strokeWidth": 3, "strokeJoin": "round"}}
  ]
}
